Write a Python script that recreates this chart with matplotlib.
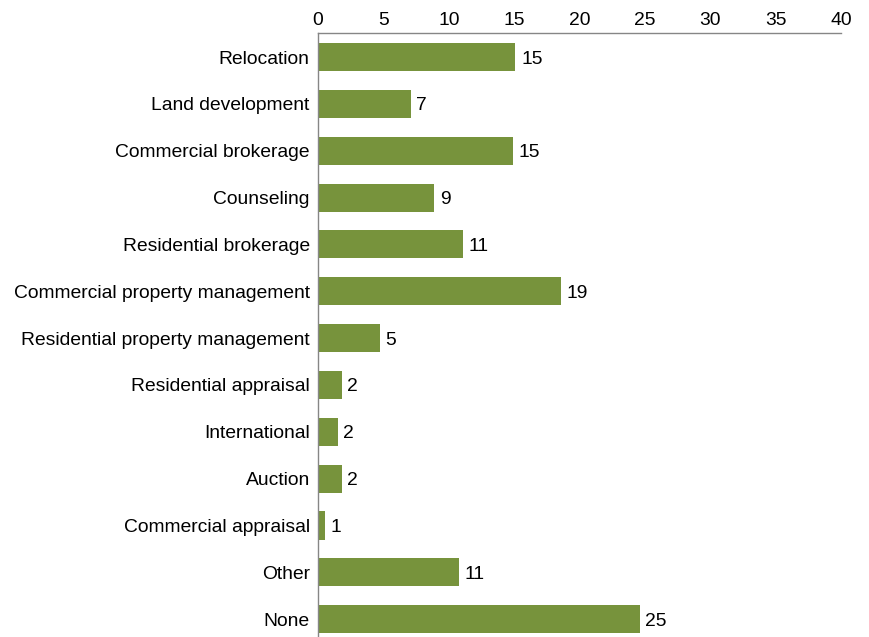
import matplotlib.pyplot as plt

GREEN = "#77933C"
AXIS_GREY = "#868686"

services = [
    "Relocation",
    "Land development",
    "Commercial brokerage",
    "Counseling",
    "Residential brokerage",
    "Commercial property management",
    "Residential property management",
    "Residential appraisal",
    "International",
    "Auction",
    "Commercial appraisal",
    "Other",
    "None",
]
# share of respondents, percent
shares = [15.1, 7.1, 14.9, 8.9, 11.1, 18.6, 4.7, 1.8, 1.5, 1.8, 0.55, 10.8, 24.6]
x_ticks = [0, 5, 10, 15, 20, 25, 30, 35, 40]

plt.rcParams["font.family"] = ["Liberation Sans", "DejaVu Sans"]

fig = plt.figure(figsize=(8.69, 6.37), dpi=100)
ax = fig.add_axes([0.366, 0.0, 0.6018, 0.948])

pos = list(range(len(services)))
bars = ax.barh(pos, shares, height=0.6, color=GREEN)
texts = ax.bar_label(bars, labels=[f"{v:.0f}" for v in shares], padding=4,
                     fontsize=13.9, color="black")
for t in texts:
    t.set_verticalalignment("center_baseline")

ax.set_xlim(0, 40)
ax.set_ylim(12.38, -0.51)
ax.set_xticks(x_ticks)
ax.set_yticks(pos)
ax.set_yticklabels(services)
ax.xaxis.tick_top()
ax.tick_params(axis="both", length=0, labelsize=13.9, colors="black")
ax.tick_params(axis="x", pad=3)
ax.tick_params(axis="y", pad=6)

for side in ["right", "bottom"]:
    ax.spines[side].set_visible(False)
for side in ["top", "left"]:
    ax.spines[side].set_color(AXIS_GREY)
    ax.spines[side].set_linewidth(1.0)

fig.savefig("out.png", dpi=100)
